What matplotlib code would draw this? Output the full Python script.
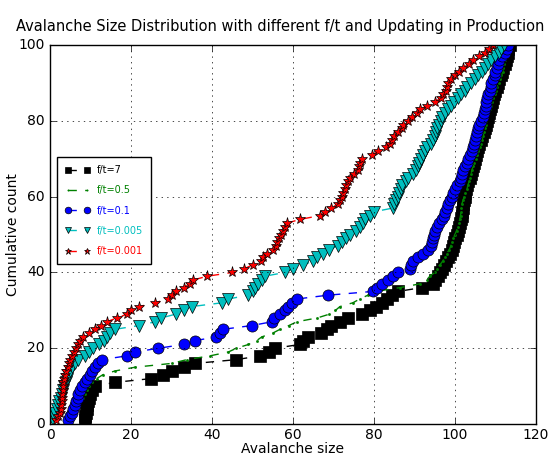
import numpy as np
import matplotlib
matplotlib.use('Agg')
from matplotlib import pyplot as plt

plt.style.use('classic')

# sorted avalanche sizes, one per count (1..100)
ft7 = [8.5, 8.7, 8.9, 9.0, 9.2, 9.4, 9.6, 9.9, 10.4, 11.2,
       16.0, 25.0, 28.0, 30.0, 33.0, 35.8, 46.0, 51.9, 54.0, 55.5,
       61.7, 62.5, 63.7, 67.0, 68.4, 69.5, 71.6, 73.6, 77.0, 79.0,
       80.5, 82.0, 83.2, 84.5, 86.0, 91.8, 94.6, 95.0, 95.8, 96.3,
       96.8, 97.2, 97.8, 98.2, 98.8, 99.2, 99.5, 99.8, 100.0, 100.4,
       100.7, 101.0, 101.2, 101.5, 101.7, 101.8, 102.0, 102.1, 102.2, 102.4,
       102.6, 102.8, 103.0, 103.3, 103.7, 104.0, 104.2, 104.4, 104.7, 105.0,
       105.2, 105.4, 105.6, 106.0, 106.5, 106.8, 107.1, 107.4, 107.7, 108.0,
       108.2, 108.4, 108.6, 108.9, 109.2, 109.4, 109.7, 110.0, 110.3, 110.6,
       110.9, 111.3, 111.6, 112.0, 112.3, 112.6, 112.8, 113.0, 113.2, 113.5]

ft05 = [5.0, 5.5, 6.0, 6.5, 7.0, 7.5, 8.0, 8.5, 9.0, 9.5,
        10.3, 11.5, 13.0, 16.0, 21.0, 30.0, 33.8, 39.5, 44.0, 46.0,
        49.0, 51.0, 52.3, 55.0, 56.8, 59.0, 61.0, 66.0, 69.0, 70.5,
        71.6, 74.8, 76.5, 78.5, 80.5, 86.4, 91.4, 93.0, 93.8, 95.0,
        95.5, 96.3, 97.0, 97.5, 98.0, 98.6, 99.0, 99.3, 99.6, 100.0,
        100.4, 100.7, 101.0, 101.2, 101.4, 101.5, 101.6, 101.7, 102.0, 102.3,
        102.6, 103.0, 103.2, 103.5, 103.8, 104.0, 104.2, 104.5, 104.8, 105.2,
        105.5, 105.8, 106.1, 106.4, 106.7, 107.0, 107.2, 107.4, 107.6, 107.8,
        108.0, 108.3, 108.6, 108.9, 109.2, 109.5, 109.8, 110.1, 110.4, 110.8,
        111.2, 111.5, 111.8, 112.0, 112.2, 112.4, 112.6, 112.8, 113.0, 113.2]

ft01 = [4.5, 4.9, 5.3, 5.7, 6.2, 6.5, 6.8, 7.0, 7.5, 7.9,
        8.6, 9.1, 9.9, 10.4, 11.0, 11.9, 12.8, 19.0, 21.0, 26.7,
        33.0, 35.8, 41.0, 42.0, 42.7, 49.9, 54.8, 55.2, 56.8, 58.0,
        58.8, 59.8, 61.0, 68.6, 79.8, 80.7, 82.0, 83.5, 84.7, 86.0,
        88.9, 89.2, 89.6, 90.9, 92.0, 93.3, 94.0, 94.3, 94.6, 94.8,
        95.0, 95.5, 96.0, 96.8, 97.2, 97.5, 98.0, 98.3, 98.8, 99.2,
        99.5, 100.0, 100.5, 101.2, 101.5, 101.7, 102.0, 102.5, 103.0, 103.2,
        103.7, 104.2, 104.4, 104.6, 105.0, 105.2, 105.4, 105.7, 106.0, 106.5,
        107.0, 107.2, 107.4, 107.6, 107.8, 108.0, 108.3, 108.6, 108.8, 109.0,
        109.5, 109.8, 110.0, 110.3, 110.6, 111.0, 111.6, 112.3, 112.8, 113.2]

ft0005 = [0.8, 1.0, 1.3, 1.6, 2.0, 2.3, 2.6, 2.9, 3.2, 3.5,
          3.8, 4.1, 4.4, 5.0, 5.5, 6.2, 7.0, 8.5, 9.5, 10.5,
          12.0, 13.2, 14.0, 14.8, 16.0, 22.0, 26.0, 27.5, 31.0, 33.0,
          35.0, 42.5, 44.0, 49.0, 50.0, 50.6, 51.4, 52.3, 53.0, 58.0,
          60.0, 62.5, 65.0, 66.0, 67.4, 69.0, 71.0, 72.0, 73.0, 74.0,
          75.5, 76.5, 77.2, 77.8, 79.0, 80.0, 84.7, 85.0, 85.4, 86.0,
          86.3, 86.6, 87.0, 87.8, 88.5, 89.6, 90.3, 90.8, 91.2, 91.6,
          92.0, 92.6, 93.2, 94.0, 94.5, 95.0, 95.3, 95.6, 96.0, 96.5,
          96.9, 97.6, 98.3, 99.0, 99.8, 100.8, 101.6, 102.4, 103.0, 104.0,
          105.0, 105.8, 106.6, 107.5, 108.2, 109.0, 109.8, 110.8, 111.5, 112.2]

ft0001 = [1.5, 2.0, 2.5, 2.7, 2.8, 2.9, 3.0, 3.0, 3.1, 3.2,
          3.3, 3.4, 3.6, 4.0, 4.3, 4.6, 5.0, 5.4, 5.9, 6.4,
          6.9, 7.4, 8.2, 9.5, 11.0, 12.5, 14.0, 16.5, 19.0, 20.0,
          22.0, 26.0, 29.0, 30.0, 31.0, 33.0, 34.5, 35.3, 38.8, 45.0,
          48.0, 50.0, 52.0, 52.6, 53.6, 55.0, 55.8, 56.0, 56.5, 57.0,
          57.5, 58.0, 58.5, 61.7, 66.7, 68.0, 69.5, 71.0, 71.5, 72.0,
          72.3, 72.8, 73.2, 73.6, 74.0, 75.0, 76.0, 76.4, 76.6, 77.0,
          79.5, 81.0, 83.0, 84.0, 84.5, 85.0, 86.0, 87.0, 87.2, 88.5,
          89.5, 90.6, 91.5, 93.0, 95.0, 96.5, 97.0, 97.8, 98.0, 98.3,
          99.0, 100.0, 101.0, 102.0, 103.5, 104.5, 106.0, 107.5, 108.5, 109.5]

counts = np.arange(1, 101)

fig = plt.figure(figsize=(5.57, 4.55), dpi=100, facecolor='white')
ax = fig.add_axes([0.09, 0.068, 0.872, 0.833])

ax.plot(ft7, counts, 'ks--', ms=8, mew=0.5, label='f/t=7')
ax.plot(ft05, counts, 'g.--', ms=3, label='f/t=0.5')
ax.plot(ft01, counts, 'bo--', ms=8, mew=0.5, label='f/t=0.1')
ax.plot(ft0005, counts, 'cv--', ms=8, mew=0.5, label='f/t=0.005')
ax.plot(ft0001, counts, 'r*--', ms=8, mew=0.5, label='f/t=0.001')

ax.set_xlim(0, 120)
ax.set_ylim(0, 100)
ax.grid(True)
ax.tick_params(labelsize=10)
ax.tick_params(axis='x', pad=3)
ax.set_xlabel('Avalanche size', fontsize=10, labelpad=0)
ax.set_ylabel('Cumulative count', fontsize=10)
ax.yaxis.set_label_coords(-0.062, 0.5)
ax.set_title('Avalanche Size Distribution with different f/t and Updating in Production',
             fontsize=10.5, x=0.473, y=1.02)

leg = ax.legend(loc='lower left', bbox_to_anchor=(0.005, 0.41), fontsize=7,
                numpoints=2, handlelength=2.5, labelspacing=1.05, borderpad=0.8,
                markerscale=0.6)
for line, text in zip(leg.get_lines(), leg.get_texts()):
    text.set_color(line.get_color())

fig.savefig('out.png', dpi=100, facecolor='white')
